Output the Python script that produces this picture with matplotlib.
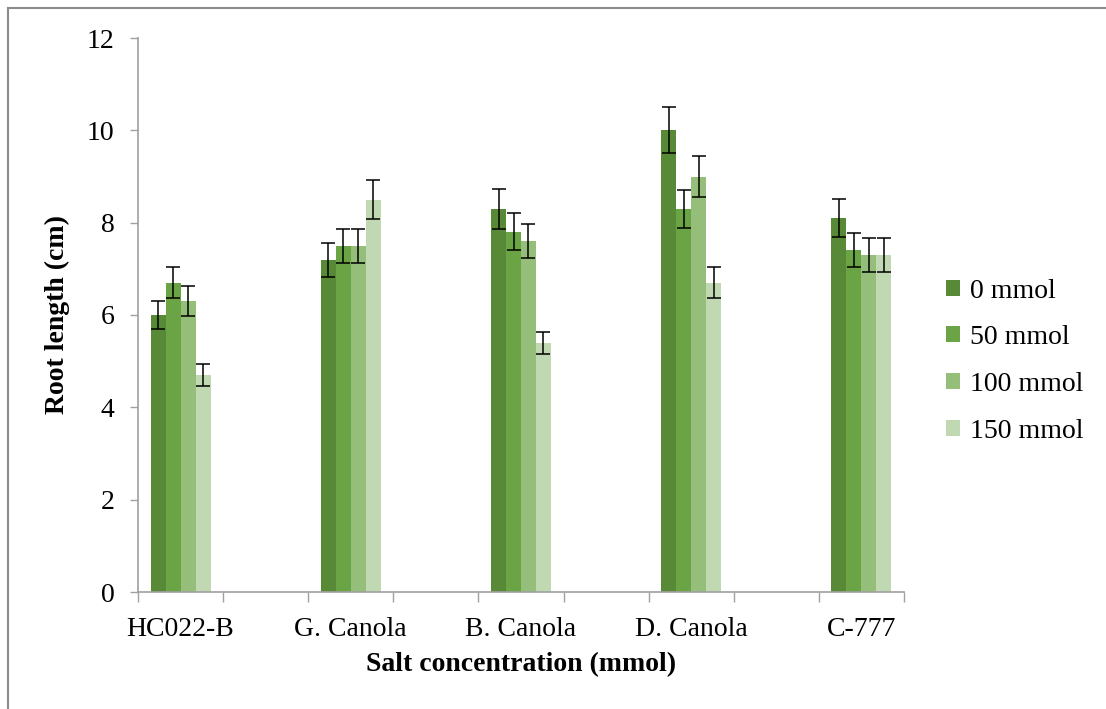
import numpy as np
import matplotlib.pyplot as plt
from matplotlib.lines import Line2D

plt.rcParams['font.family'] = ['Liberation Serif', 'DejaVu Serif']

# Dados
cultivars = ['HC022-B', 'G. Canola', 'B. Canola', 'D. Canola', 'C-777']
series_labels = ['0 mmol', '50 mmol', '100 mmol', '150 mmol']

root_0 = [6.0, 7.2, 8.3, 10.0, 8.1]
root_50 = [6.7, 7.5, 7.8, 8.3, 7.4]
root_100 = [6.3, 7.5, 7.6, 9.0, 7.3]
root_150 = [4.7, 8.5, 5.4, 6.7, 7.3]

err_0 = [0.31, 0.37, 0.43, 0.50, 0.41]
err_50 = [0.34, 0.37, 0.40, 0.41, 0.37]
err_100 = [0.32, 0.37, 0.37, 0.45, 0.36]
err_150 = [0.24, 0.42, 0.24, 0.34, 0.36]

COLORS = ['#578937', '#6aa444', '#95be7b', '#c1d9b3']


def plot_root_length():
    fig = plt.figure(figsize=(11.06, 7.09), dpi=100)
    ax = fig.add_axes([138 / 1106, 1 - 592 / 709, (904 - 138) / 1106, (592 - 38) / 709])

    # categorias vazias entre cultivares (como no Excel original)
    n_slots = 2 * len(cultivars) - 1
    centers = np.arange(len(cultivars)) * 2
    width = 0.176

    values = [root_0, root_50, root_100, root_150]
    errors = [err_0, err_50, err_100, err_150]
    for i, (vals, errs) in enumerate(zip(values, errors)):
        x = centers + (i - 1.5) * width
        ax.bar(x, vals, width=width, color=COLORS[i], label=series_labels[i],
               edgecolor='none', zorder=2)
        ax.errorbar(x, vals, yerr=errs, fmt='none', ecolor='black',
                    elinewidth=1.1, capsize=4.7, capthick=1.1, zorder=3)

    ax.set_xlim(-0.5, n_slots - 0.5)
    ax.set_ylim(0, 12)
    ax.set_yticks(np.arange(0, 13, 2))

    ax.set_xticks(centers)
    ax.set_xticklabels(cultivars)
    ax.set_xticks(np.arange(-0.5, n_slots, 1.0), minor=True)
    ax.tick_params(axis='x', which='major', length=0, pad=18, labelsize=20)
    ax.tick_params(axis='x', which='minor', length=7, width=1, color='#a0a0a0',
                   direction='out')
    ax.tick_params(axis='y', length=6, width=1, color='#a0a0a0', pad=11,
                   labelsize=20)

    for side in ['top', 'right']:
        ax.spines[side].set_visible(False)
    for side in ['left', 'bottom']:
        ax.spines[side].set_color('#a0a0a0')
        ax.spines[side].set_linewidth(1.2)

    ax.set_ylabel('Root length (cm)', fontsize=20, fontweight='bold', labelpad=12)
    ax.set_xlabel('Salt concentration (mmol)', fontsize=20, fontweight='bold',
                  labelpad=7)

    fig.legend(loc='center left', bbox_to_anchor=(946 / 1106, 1 - 361 / 709),
               frameon=False, fontsize=20, handlelength=0.5, handleheight=0.5,
               handletextpad=0.35, labelspacing=0.78, borderpad=0,
               borderaxespad=0)

    # moldura cinza do gráfico (só topo e esquerda visíveis)
    fig.add_artist(Line2D([7.5 / 1106, 1], [1 - 7.5 / 709, 1 - 7.5 / 709],
                          color='#8c8c8c', linewidth=1.5, transform=fig.transFigure))
    fig.add_artist(Line2D([7.5 / 1106, 7.5 / 1106], [0, 1 - 7.5 / 709],
                          color='#8c8c8c', linewidth=1.5, transform=fig.transFigure))

    fig.savefig('out.png', dpi=100)
    plt.close(fig)


if __name__ == '__main__':
    plot_root_length()
